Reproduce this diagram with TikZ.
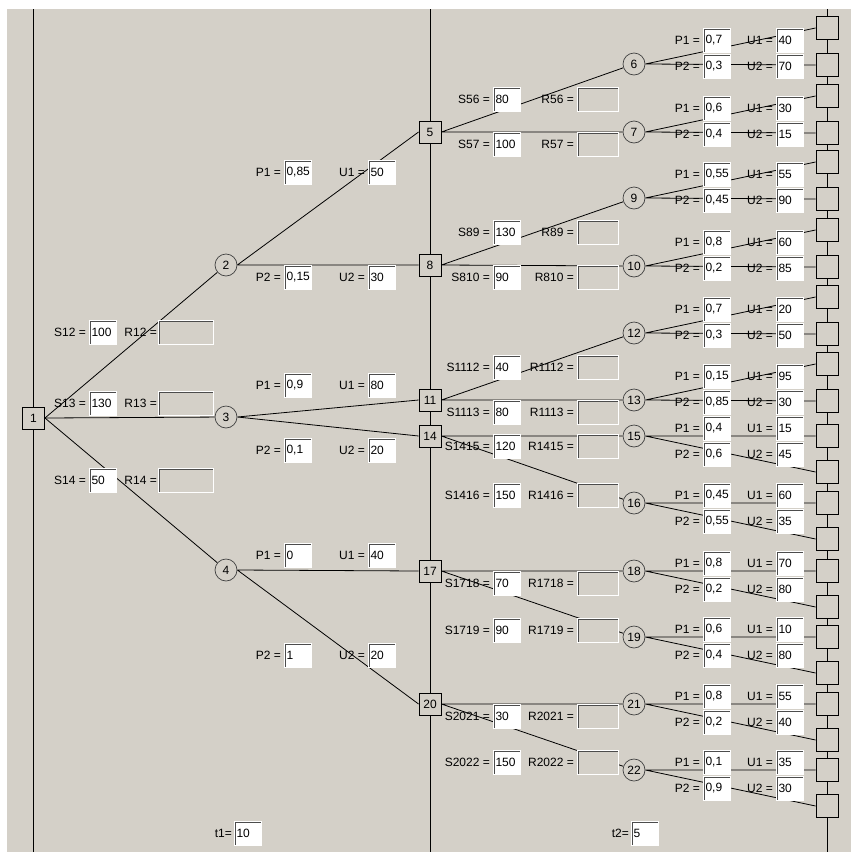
\documentclass[tikz,border=0pt]{standalone}
\usepackage{fontspec}
\setmainfont{Liberation Sans}
\usetikzlibrary{positioning}
\definecolor{formbg}{HTML}{D4D0C8}
\newcommand\formfont{\fontsize{12}{14}\selectfont}
\pgfdeclarelayer{back}
\pgfdeclarelayer{edges}
\pgfsetlayers{back,edges,main}

\begin{document}
\begin{tikzpicture}[x=1pt, y=-1pt,
    fld/.style={draw=white, fill=white, line width=1, anchor=west, minimum height=24,
      text width=23, inner xsep=2, inner ysep=0, align=left, font=\formfont,
      path picture={\draw[gray!60!black, line width=3]
        (path picture bounding box.south west) -- (path picture bounding box.north west)
        -- (path picture bounding box.north east);}},
    rfld/.style={fld, fill=formbg, text width=#1}, rfld/.default=37,
    lbl/.style={inner sep=0, font=\formfont},
    dec/.style={draw, fill=formbg, line width=0.9, minimum size=22, inner sep=0, font=\formfont},
    chn/.style={circle, draw=black!75, fill=formbg, line width=0.7, minimum size=22,
      inner sep=0, font=\formfont},
    term/.style={draw, fill=formbg, line width=0.9, minimum width=22, minimum height=23},
    link/.style={line width=0.8}]
  \useasboundingbox (0,0) rectangle (851,852);
  \begin{pgfonlayer}{back}
    \fill[white] (0,0) rectangle (851,852);
    \fill[formbg] (7,9) rectangle (851,852);
    \draw[line width=1] (33.5,9) -- (33.5,852) (430,9) -- (430,852) (827,9) -- (827,852);
  \end{pgfonlayer}

  % stage 1
  \node[dec] (n1) at (33.5,418) {1};
  \foreach \j/\y/\v in {2/332/100, 3/403/130, 4/480/50}{
    \node[fld] (s1\j) at (89,\y) {\v};
    \node[lbl, left=3pt of s1\j] {S1\j\ =};
    \node[rfld=51] (r1\j) at (158,\y) {};
    \node[lbl, left=1pt of r1\j] {R1\j\ =};
  }
  \foreach \ch/\y/\pa/\pb/\ua/\ub/\ra/\rb in {2/265/{0,85}/{0,15}/50/30/172/277,
      3/417/{0,9}/{0,1}/80/20/385/450, 4/570/0/1/40/20/555/655}{
    \node[chn] (n\ch) at (226,\y) {\ch};
    \node[fld] (pa\ch) at (284,\ra) {\pa};
    \node[lbl, left=3pt of pa\ch] {P1 =};
    \node[fld] (ua\ch) at (368,\ra) {\ua};
    \node[lbl, left=3pt of ua\ch] {U1 =};
    \node[fld] (pb\ch) at (284,\rb) {\pb};
    \node[lbl, left=3pt of pb\ch] {P2 =};
    \node[fld] (ub\ch) at (368,\rb) {\ub};
    \node[lbl, left=3pt of ub\ch] {U2 =};
  }

  % stage 2
  \foreach \dn/\y/\ca/\cb/\sa/\sb/\ra/\rb in {5/132/6/7/80/100/99/144,
      8/265/9/10/130/90/232/277, 11/400/12/13/40/80/367/412,
      14/436/15/16/120/150/446/495, 17/571/18/19/70/90/583/630,
      20/704/21/22/30/150/716/762}{
    \node[dec] (n\dn) at (430,\y) {\dn};
    \node[fld] (s\dn\ca) at (493,\ra) {\sa};
    \node[lbl, left=3pt of s\dn\ca] {S\dn\ca\ =};
    \node[rfld] (r\dn\ca) at (577,\ra) {};
    \node[lbl, left=3pt of r\dn\ca] {R\dn\ca\ =};
    \node[fld] (s\dn\cb) at (493,\rb) {\sb};
    \node[lbl, left=3pt of s\dn\cb] {S\dn\cb\ =};
    \node[rfld] (r\dn\cb) at (577,\rb) {};
    \node[lbl, left=3pt of r\dn\cb] {R\dn\cb\ =};
  }

  % chance nodes with terminals, P1 up
  \foreach \ch/\y/\pa/\pb/\ua/\ub in {6/64/{0,7}/{0,3}/40/70, 7/132/{0,6}/{0,4}/30/15,
      9/198/{0,55}/{0,45}/55/90, 10/266/{0,8}/{0,2}/60/85,
      12/333/{0,7}/{0,3}/20/50, 13/400/{0,15}/{0,85}/95/30}{
    \node[chn] (n\ch) at (634,\y) {\ch};
    \node[term] (ta\ch) at (827,\y-36) {};
    \node[term] (tb\ch) at (827,\y+1) {};
    \node[fld] (pa\ch) at (703,\y-24) {\pa};
    \node[lbl, left=3pt of pa\ch] {P1 =};
    \node[fld] (ua\ch) at (776,\y-24) {\ua};
    \node[lbl, left=3pt of ua\ch] {U1 =};
    \node[fld] (pb\ch) at (703,\y+2) {\pb};
    \node[lbl, left=3pt of pb\ch] {P2 =};
    \node[fld] (ub\ch) at (776,\y+2) {\ub};
    \node[lbl, left=3pt of ub\ch] {U2 =};
  }
  % chance nodes with terminals, P2 down
  \foreach \ch/\y/\pa/\pb/\ua/\ub in {15/436/{0,4}/{0,6}/15/45, 16/503/{0,45}/{0,55}/60/35,
      18/571/{0,8}/{0,2}/70/80, 19/637/{0,6}/{0,4}/10/80,
      21/704/{0,8}/{0,2}/55/40, 22/770/{0,1}/{0,9}/35/30}{
    \node[chn] (n\ch) at (634,\y) {\ch};
    \node[term] (ta\ch) at (827,\y) {};
    \node[term] (tb\ch) at (827,\y+36) {};
    \node[fld] (pa\ch) at (703,\y-8) {\pa};
    \node[lbl, left=3pt of pa\ch] {P1 =};
    \node[fld] (ua\ch) at (776,\y-8) {\ua};
    \node[lbl, left=3pt of ua\ch] {U1 =};
    \node[fld] (pb\ch) at (703,\y+18) {\pb};
    \node[lbl, left=3pt of pb\ch] {P2 =};
    \node[fld] (ub\ch) at (776,\y+18) {\ub};
    \node[lbl, left=3pt of ub\ch] {U2 =};
  }

  % times
  \node[fld] (tone) at (234,833) {10};
  \node[lbl, left=2pt of tone] {t1=};
  \node[fld] (ttwo) at (631,833) {5};
  \node[lbl, left=2pt of ttwo] {t2=};

  \begin{pgfonlayer}{edges}
    \foreach \ch in {2,3,4}
      \draw[link] (n1.east) -- (n\ch);
    \draw[link] (n2.east) -- (n5.west) (n2.east) -- (n8.west)
                (n3.east) -- (n11.west) (n3.east) -- (n14.west)
                (n4.east) -- (n17.west) (n4.east) -- (n20.west);
    \foreach \dn/\ca/\cb in {5/6/7, 8/9/10, 11/12/13, 14/15/16, 17/18/19, 20/21/22}
      \draw[link] (n\dn.east) -- (n\ca) (n\dn.east) -- (n\cb);
    \foreach \ch in {6,7,9,10,12,13,15,16,18,19,21,22}
      \draw[link] (n\ch.east) -- (ta\ch.west) (n\ch.east) -- (tb\ch.west);
  \end{pgfonlayer}
\end{tikzpicture}
\end{document}
